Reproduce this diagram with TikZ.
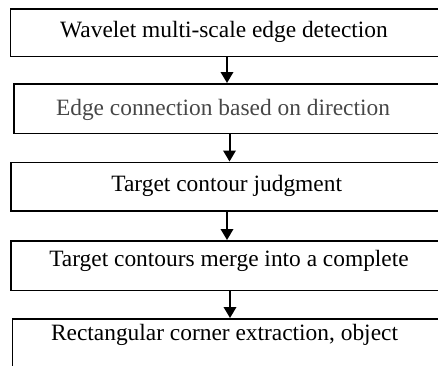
\documentclass[tikz,border=0pt]{standalone}
\usepackage{fontspec}
\setmainfont{Liberation Serif}
\usetikzlibrary{arrows.meta}
\begin{document}
\begin{tikzpicture}[x=1pt,y=-1pt,
  stage/.style={draw, line width=1.9pt, inner sep=0pt, anchor=north west, minimum width=440pt},
  caption/.style={anchor=base, inner sep=0pt, font=\fontsize{23.4}{28}\selectfont},
  flow/.style={line width=2pt, -{Triangle[length=11pt,width=12.5pt]}}]
\useasboundingbox (0,0) rectangle (438,365);
\clip (0,0) rectangle (438,365);

% process boxes (they run past the right and bottom edges)
\node[stage, minimum height=47.5pt] (b1) at (9.5,8) {};
\node[stage, minimum height=49.5pt] (b2) at (13,83) {};
\node[stage, minimum height=48.5pt] (b3) at (10,161.5) {};
\node[stage, minimum height=49.5pt] (b4) at (10,240) {};
\node[stage, minimum height=60pt]   (b5) at (11.5,318) {};

% box texts
\node[caption] (t1) at (224,37) {Wavelet multi-scale edge detection};
\node[caption, text=black!72] (t2) at (223,115) {Edge connection based on direction};
\node[caption] (t3) at (226.7,191.7) {Target contour judgment};
\node[caption] (t4) at (229,266) {Target contours merge into a complete};
\node[caption] (t5) at (224.5,340) {Rectangular corner extraction, object};

% flow arrows
\draw[flow] (b1.south -| 227,0) -- (b2.north -| 227,0);
\draw[flow] (b2.south -| 229.5,0) -- (b3.north -| 229.5,0);
\draw[flow] (b3.south -| 227,0) -- (b4.north -| 227,0);
\draw[flow] (b4.south -| 230,0) -- (b5.north -| 230,0);
\end{tikzpicture}
\end{document}
